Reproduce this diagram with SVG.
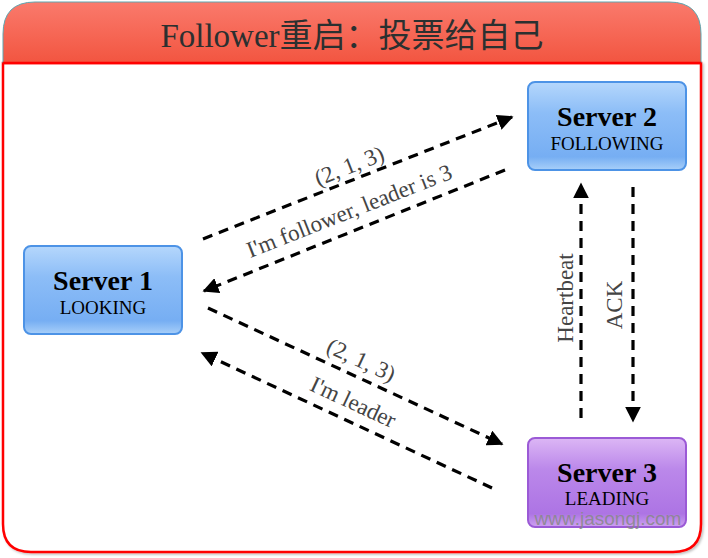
<svg xmlns="http://www.w3.org/2000/svg" width="708" height="558" viewBox="0 0 708 558">
<defs>
<linearGradient id="hdr" x1="0" y1="0" x2="0" y2="1">
<stop offset="0" stop-color="#fa7a6c"/>
<stop offset="1" stop-color="#f25540"/>
</linearGradient>
<linearGradient id="blue" x1="0" y1="0" x2="0" y2="1">
<stop offset="0" stop-color="#b5d7fc"/>
<stop offset="0.35" stop-color="#8cbdf7"/>
<stop offset="0.85" stop-color="#76aef3"/>
<stop offset="1" stop-color="#a8cff9"/>
</linearGradient>
<linearGradient id="purple" x1="0" y1="0" x2="0" y2="1">
<stop offset="0" stop-color="#dcb6f5"/>
<stop offset="0.35" stop-color="#bb88ea"/>
<stop offset="0.85" stop-color="#ad74e4"/>
<stop offset="1" stop-color="#cda2f0"/>
</linearGradient>
<marker id="ah" viewBox="0 0 10 10" refX="9" refY="5" markerWidth="5" markerHeight="5" orient="auto" markerUnits="strokeWidth">
<path d="M0,0 L10,5 L0,10 z" fill="#000"/>
</marker>
<filter id="sh" x="-5%" y="-5%" width="110%" height="110%">
<feDropShadow dx="1.5" dy="1.5" stdDeviation="1" flood-color="#000" flood-opacity="0.25"/>
</filter>
</defs>
<style>
.title{font-family:"Liberation Serif","Noto Sans CJK SC",serif;font-size:33px;fill:#2b3030;text-anchor:middle}
.nm{font-family:"Liberation Serif",serif;font-size:28px;font-weight:bold;fill:#000;text-anchor:middle}
.st{font-family:"Liberation Serif",serif;font-size:19px;fill:#000;text-anchor:middle}
.lbl{font-family:"Liberation Serif",serif;font-size:23px;fill:#444;text-anchor:middle}
.ln{fill:none;stroke:#000;stroke-width:3.2;stroke-dasharray:10 7}
.wm{font-family:"Liberation Sans",sans-serif;font-size:19px;fill:#888;fill-opacity:0.85;text-anchor:middle}
</style>
<rect width="708" height="558" fill="#fff"/>
<g id="frame">
<path d="M3,63 L701,63 L701,524 Q701,552 673,552 L31,552 Q3,552 3,524 Z" fill="#fff" stroke="#ff0000" stroke-width="2.5" filter="url(#sh)"/>
<path d="M3,63 L3,34 Q3,2 35,2 L669,2 Q701,2 701,34 L701,63 Z" fill="url(#hdr)" stroke="#5fa6b0" stroke-width="1"/>
<line x1="3" y1="63" x2="701" y2="63" stroke="#ff0000" stroke-width="2.5"/>
<text class="title" x="352" y="47">Follower重启：投票给自己</text>
</g>
<g id="connectors">
<line class="ln" x1="203" y1="239" x2="512" y2="117" marker-end="url(#ah)"/>
<line class="ln" x1="505" y1="170" x2="204" y2="291" marker-end="url(#ah)"/>
<line class="ln" x1="208" y1="308" x2="502" y2="444" marker-end="url(#ah)"/>
<line class="ln" x1="492" y1="488" x2="202" y2="353" marker-end="url(#ah)"/>
<line class="ln" x1="581" y1="418" x2="581" y2="184" marker-end="url(#ah)"/>
<line class="ln" x1="633" y1="187" x2="633" y2="421" marker-end="url(#ah)"/>
<text class="lbl" transform="translate(352,173) rotate(-21.5)">(2, 1, 3)</text>
<text class="lbl" transform="translate(352,218) rotate(-21.5)">I'm follower, leader is 3</text>
<text class="lbl" transform="translate(358,367) rotate(25)">(2, 1, 3)</text>
<text class="lbl" transform="translate(350,409) rotate(25)">I'm leader</text>
<text class="lbl" transform="translate(573,298) rotate(-90)">Heartbeat</text>
<text class="lbl" transform="translate(622,305) rotate(-90)">ACK</text>
</g>
<g id="server1">
<rect x="24" y="246" width="158" height="88" rx="7" fill="url(#blue)" stroke="#4d93e6" stroke-width="2"/>
<text class="nm" x="103" y="290">Server 1</text>
<text class="st" x="103" y="314">LOOKING</text>
</g>
<g id="server2">
<rect x="528" y="82" width="158" height="88" rx="7" fill="url(#blue)" stroke="#4d93e6" stroke-width="2"/>
<text class="nm" x="607" y="126">Server 2</text>
<text class="st" x="607" y="150">FOLLOWING</text>
</g>
<g id="server3">
<rect x="528" y="438" width="158" height="89" rx="7" fill="url(#purple)" stroke="#9b5ad6" stroke-width="2"/>
<text class="nm" x="607" y="482">Server 3</text>
<text class="st" x="607" y="505">LEADING</text>
</g>
<text class="wm" x="608" y="525">www.jasongj.com</text>
</svg>
